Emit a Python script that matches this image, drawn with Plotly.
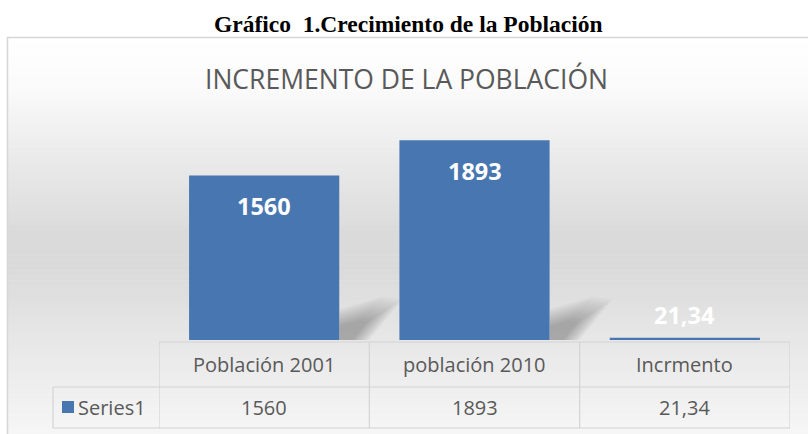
import plotly.graph_objects as go

categories = ["Población 2001", "población 2010", "Incrmento"]
values = [1560, 1893, 21.34]
value_labels = ["1560", "1893", "21,34"]
series_name = "Series1"
chart_title = "INCREMENTO DE LA POBLACIÓN"
caption = "Gráfico\u00a0 1.Crecimiento de la Población"

W, H = 808, 434
L, R, T, B = 159, 790, 129, 340   # plot area in pixels
YMAX = 2000


def px2x(px):
    return (px - L) / (R - L)


def py2y(py):
    return (B - py) / (B - T)


fig = go.Figure()
fig.add_trace(go.Bar(
    x=list(range(len(categories))), y=values, width=0.714,
    marker=dict(color="#4776b1", line=dict(width=0)),
    hoverinfo="skip", showlegend=False,
))

shapes = []
# background gradient
stops = [(37, 255), (85, 251), (150, 236), (235, 218), (268, 218), (340, 231), (434, 246)]
n = 80
for k in range(n):
    y0 = 37 + (H - 37) * k / n
    y1 = 37 + (H - 37) * (k + 1) / n
    ym = (y0 + y1) / 2
    for (a, ca), (b, cb) in zip(stops[:-1], stops[1:]):
        if a <= ym <= b:
            c = int(round(ca + (cb - ca) * (ym - a) / (b - a)))
            break
    shapes.append(dict(type="rect", xref="paper", yref="paper",
                       x0=px2x(7), x1=px2x(W + 5), y0=py2y(y0), y1=py2y(y1 + 0.5),
                       fillcolor=f"rgb({c},{c},{c})", line=dict(width=0), layer="below"))
# frame
shapes.append(dict(type="line", xref="paper", yref="paper", x0=px2x(7), x1=px2x(W + 5),
                   y0=py2y(37.5), y1=py2y(37.5), line=dict(color="#d6d6d6", width=1.5), layer="below"))
shapes.append(dict(type="line", xref="paper", yref="paper", x0=px2x(7.5), x1=px2x(7.5),
                   y0=py2y(37), y1=py2y(H + 5), line=dict(color="#d6d6d6", width=1.5), layer="below"))

# soft bar shadows
upp = YMAX / (B - T)  # data units per pixel
for i, v in enumerate(values):
    if v / upp < 45:
        continue
    xr = i + 0.357
    for k in range(12):
        s = 1.2 - k * 0.06
        path = (f"M {xr},0 L {xr},{26*s*upp} L {xr+0.17*s},{36*s*upp} "
                f"L {xr+0.25*s},{34*s*upp} L {xr+0.12*s},0 Z")
        shapes.append(dict(type="path", xref="x", yref="y", path=path,
                           fillcolor="rgba(0,0,0,0.025)", line=dict(width=0), layer="below"))

# data table lines
lc = dict(color="#d4d4d4", width=1.2)
shapes.append(dict(type="line", xref="x", yref="paper", x0=-0.5, x1=len(categories) - 0.5,
                   y0=py2y(342), y1=py2y(342), line=lc))
for yy in (387, 428):
    shapes.append(dict(type="line", xref="paper", yref="paper", x0=px2x(53), x1=1,
                       y0=py2y(yy), y1=py2y(yy), line=lc))
for i in range(len(categories) + 1):
    shapes.append(dict(type="line", xref="x", yref="paper", x0=i - 0.5, x1=i - 0.5,
                       y0=py2y(342), y1=py2y(428), line=lc))
shapes.append(dict(type="line", xref="paper", yref="paper", x0=px2x(53), x1=px2x(53),
                   y0=py2y(387), y1=py2y(428), line=lc))
# legend key
shapes.append(dict(type="rect", xref="paper", yref="paper", x0=px2x(62), x1=px2x(74),
                   y0=py2y(413), y1=py2y(401), fillcolor="#4776b1", line=dict(width=0)))

annotations = []
txt = "#595959"
for i, (c, v, lab) in enumerate(zip(categories, values, value_labels)):
    annotations.append(dict(x=i, xref="x", y=py2y(364), yref="paper", text=c, showarrow=False,
                            xanchor="center", yanchor="middle",
                            font=dict(family="Open Sans", size=20, color=txt)))
    annotations.append(dict(x=i, xref="x", y=py2y(407), yref="paper", text=lab, showarrow=False,
                            xanchor="center", yanchor="middle",
                            font=dict(family="Open Sans", size=20, color=txt)))
    inside = v / YMAX > 0.2
    annotations.append(dict(x=i, xref="x", y=v, yref="y", text=f"<b>{lab}</b>", showarrow=False,
                            xanchor="center", yanchor="middle", yshift=-31 if inside else 23,
                            font=dict(family="Open Sans", size=23.5, color="white")))
annotations.append(dict(x=px2x(76), xref="paper", y=py2y(407), yref="paper", text=series_name,
                        xanchor="left", yanchor="middle", showarrow=False,
                        font=dict(family="Open Sans", size=20, color=txt)))
annotations.append(dict(x=px2x(406), xref="paper", y=py2y(79), yref="paper", text=chart_title,
                        xanchor="center", yanchor="middle",
                        showarrow=False, font=dict(family="Open Sans", size=26.5, color=txt)))
annotations.append(dict(x=px2x(408), xref="paper", y=py2y(24), yref="paper", text=f"<b>{caption}</b>",
                        xanchor="center", yanchor="middle",
                        showarrow=False, font=dict(family="Liberation Serif", size=23.5, color="black")))

fig.update_layout(
    width=W, height=H,
    margin=dict(l=L, r=W - R, t=T, b=H - B, pad=0),
    paper_bgcolor="white", plot_bgcolor="rgba(0,0,0,0)",
    xaxis=dict(range=[-0.5, len(categories) - 0.5], showticklabels=False, showgrid=False,
               zeroline=False, showline=False, ticks=""),
    yaxis=dict(range=[0, YMAX], visible=False, showgrid=False, zeroline=False),
    shapes=shapes, annotations=annotations, showlegend=False,
)

fig.write_html("out.html", config={"displayModeBar": False},
               post_script="document.body.style.margin='0';document.body.style.overflow='hidden';")
